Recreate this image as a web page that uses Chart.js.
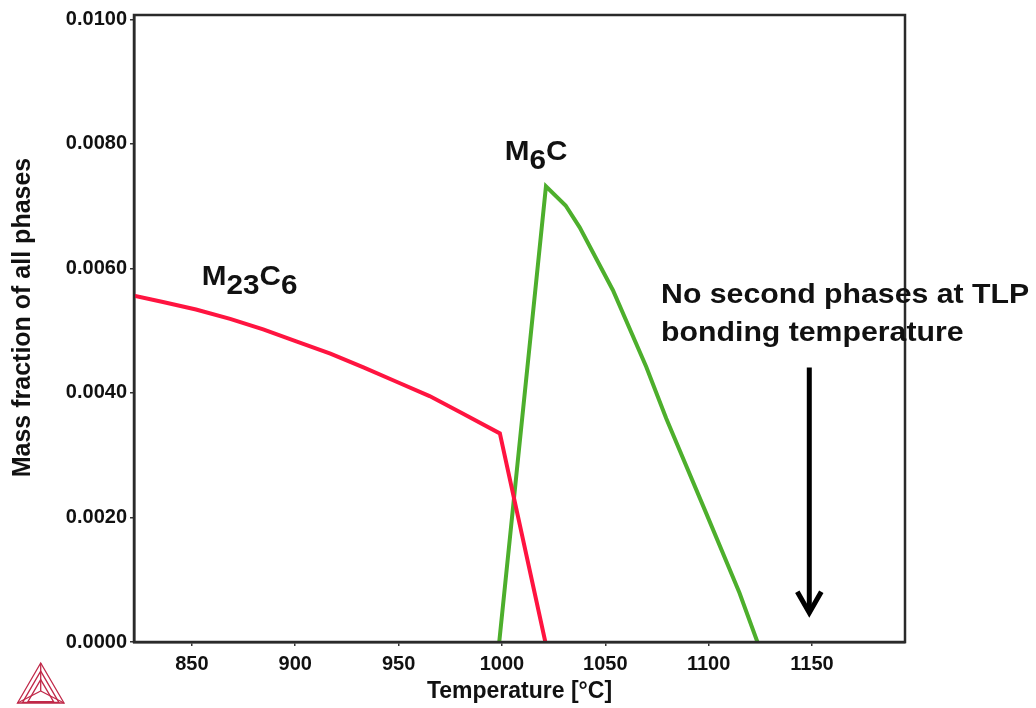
<!DOCTYPE html>
<html>
<head>
<meta charset="utf-8">
<script src="https://cdn.jsdelivr.net/npm/chart.js@4.4.1/dist/chart.umd.min.js"></script>
<style>
  html, body { margin: 0; padding: 0; background: #fff; }
  #wrap { width: 1036px; height: 708px; }
</style>
</head>
<body>
<div id="wrap"><canvas id="phaseChart"></canvas></div>
<script>
// values: temperature (°C) vs mass fraction
const m23c6Temp = [822, 836, 852, 868.5, 884.5, 900.5, 917, 933, 949, 965, 981, 999, 1021];
const m23c6Frac = [0.00556, 0.00546, 0.00534, 0.00519, 0.00502, 0.00483, 0.00463, 0.00441, 0.00418, 0.00395, 0.00367, 0.00335, 0];
const m6cTemp = [998.7, 1021.3, 1030.8, 1037.6, 1053.7, 1069.8, 1079.5, 1098.8, 1114.9, 1123.6];
const m6cFrac = [0, 0.00732, 0.00701, 0.00666, 0.00565, 0.00442, 0.00359, 0.00207, 0.00079, 0];
const xTicks = [850, 900, 950, 1000, 1050, 1100, 1150];
const yTicks = [0, 0.002, 0.004, 0.006, 0.008, 0.010];

const toPoints = (xs, ys) => xs.map((x, i) => ({ x: x, y: ys[i] }));

const FONT = "'Liberation Sans', Arial, Helvetica, sans-serif";
const INK = "#111";

// chemical formula with subscripts, slightly widened like the original
function drawFormula(ctx, parts, x, y, size, sx) {
  ctx.save();
  ctx.translate(x, y);
  ctx.scale(sx, 1);
  ctx.fillStyle = INK;
  ctx.textBaseline = "alphabetic";
  ctx.textAlign = "left";
  let cx = 0;
  parts.forEach(p => {
    ctx.font = "bold " + size + "px " + FONT;
    const dy = p.sub ? 9 : 0;
    ctx.fillText(p.t, cx, dy);
    cx += ctx.measureText(p.t).width;
  });
  ctx.restore();
}

function drawText(ctx, text, x, y, size, sx) {
  ctx.save();
  ctx.translate(x, y);
  ctx.scale(sx, 1);
  ctx.fillStyle = INK;
  ctx.font = "bold " + size + "px " + FONT;
  ctx.textAlign = "left";
  ctx.textBaseline = "alphabetic";
  ctx.fillText(text, 0, 0);
  ctx.restore();
}

const extras = {
  id: "extras",
  afterDraw(chart) {
    const ctx = chart.ctx;
    const a = chart.chartArea;
    const xs = chart.scales.x, ys = chart.scales.y;

    // frame round the plot
    ctx.save();
    ctx.strokeStyle = "#2a2a2a";
    ctx.lineWidth = 2.5;
    ctx.strokeRect(a.left, a.top, a.right - a.left, a.bottom - a.top);
    ctx.restore();

    // y axis title sits a bit above the axis centre in the original
    ctx.save();
    ctx.translate(23, (a.top + a.bottom) / 2 - 11);
    ctx.rotate(-Math.PI / 2);
    ctx.fillStyle = INK;
    ctx.font = "bold 25px " + FONT;
    ctx.textAlign = "center";
    ctx.textBaseline = "middle";
    ctx.fillText("Mass fraction of all phases", 0, 0);
    ctx.restore();

    // phase labels
    drawFormula(ctx, [{ t: "M" }, { t: "23", sub: true }, { t: "C" }, { t: "6", sub: true }],
      xs.getPixelForValue(854.8), ys.getPixelForValue(0.00574), 28, 1.06);
    drawFormula(ctx, [{ t: "M" }, { t: "6", sub: true }, { t: "C" }],
      xs.getPixelForValue(1001.4), ys.getPixelForValue(0.00774), 28, 1.06);

    // note + arrow
    const nx = xs.getPixelForValue(1077);
    const ny = ys.getPixelForValue(0.00545);
    drawText(ctx, "No second phases at TLP", nx, ny, 28, 1.08);
    drawText(ctx, "bonding temperature", nx, ny + 38, 28, 1.08);

    const ax = xs.getPixelForValue(1148.7);
    const top = ys.getPixelForValue(0.00441);
    const tip = ys.getPixelForValue(0.00047);
    ctx.save();
    ctx.strokeStyle = "#000";
    ctx.lineWidth = 5;
    ctx.beginPath();
    ctx.moveTo(ax, top);
    ctx.lineTo(ax, tip - 4);
    ctx.stroke();
    ctx.lineJoin = "miter";
    ctx.beginPath();
    ctx.moveTo(ax - 12, tip - 21);
    ctx.lineTo(ax, tip);
    ctx.lineTo(ax + 12, tip - 21);
    ctx.stroke();
    ctx.restore();

    // small triangle logo, bottom left
    ctx.save();
    ctx.strokeStyle = "#c02848";
    ctx.lineWidth = 1.3;
    const A = [40.7, 663], L = [17.5, 703], R = [64, 703], O = [40.7, 691];
    const tri = (p, q, r) => {
      ctx.beginPath();
      ctx.moveTo(p[0], p[1]); ctx.lineTo(q[0], q[1]); ctx.lineTo(r[0], r[1]); ctx.closePath(); ctx.stroke();
    };
    tri(A, L, R);
    const shrink = (p, k) => [O[0] + (p[0] - O[0]) * k, O[1] + (p[1] - O[1]) * k + (1 - k) * 9];
    tri(shrink(A, 0.78), shrink(L, 0.78), shrink(R, 0.78));
    tri(shrink(A, 0.55), shrink(L, 0.55), shrink(R, 0.55));
    [A, L, R].forEach(p => { ctx.beginPath(); ctx.moveTo(O[0], O[1]); ctx.lineTo(p[0], p[1]); ctx.stroke(); });
    ctx.restore();
  }
};

new Chart(document.getElementById("phaseChart"), {
  type: "line",
  data: {
    datasets: [
      {
        label: "M23C6",
        data: toPoints(m23c6Temp, m23c6Frac),
        borderColor: "#ff1440",
        borderWidth: 4,
        pointRadius: 0,
        tension: 0
      },
      {
        label: "M6C",
        data: toPoints(m6cTemp, m6cFrac),
        borderColor: "#4daf2c",
        borderWidth: 4,
        pointRadius: 0,
        tension: 0
      }
    ]
  },
  options: {
    responsive: true,
    maintainAspectRatio: false,
    animation: false,
    layout: { padding: { top: 14, right: 131, left: 0, bottom: 0 } },
    plugins: {
      legend: { display: false },
      tooltip: { enabled: false }
    },
    scales: {
      x: {
        type: "linear",
        min: 822,
        max: 1195,
        afterBuildTicks: s => { s.ticks = xTicks.map(v => ({ value: v })); },
        afterFit: s => { s.height = 66; },
        grid: { drawOnChartArea: false, tickLength: 4, color: "#333", lineWidth: 1.5 },
        border: { display: true, color: "#2a2a2a", width: 2.5 },
        ticks: {
          color: INK,
          padding: 6,
          maxRotation: 0,
          font: { family: FONT, size: 20, weight: "bold" },
          callback: v => String(v)
        },
        title: {
          display: true,
          text: "Temperature [°C]",
          color: INK,
          padding: { top: 0, bottom: 3 },
          font: { family: FONT, size: 23, weight: "bold" }
        }
      },
      y: {
        min: 0,
        max: 0.01007,
        afterBuildTicks: s => { s.ticks = yTicks.map(v => ({ value: v })); },
        afterFit: s => { s.width = 134; },
        grid: { drawOnChartArea: false, tickLength: 4, color: "#333", lineWidth: 1.5 },
        border: { display: true, color: "#2a2a2a", width: 2.5 },
        ticks: {
          color: INK,
          padding: 3,
          font: { family: FONT, size: 20, weight: "bold" },
          callback: v => v.toFixed(4)
        }
      }
    }
  },
  plugins: [extras]
});
</script>
</body>
</html>
